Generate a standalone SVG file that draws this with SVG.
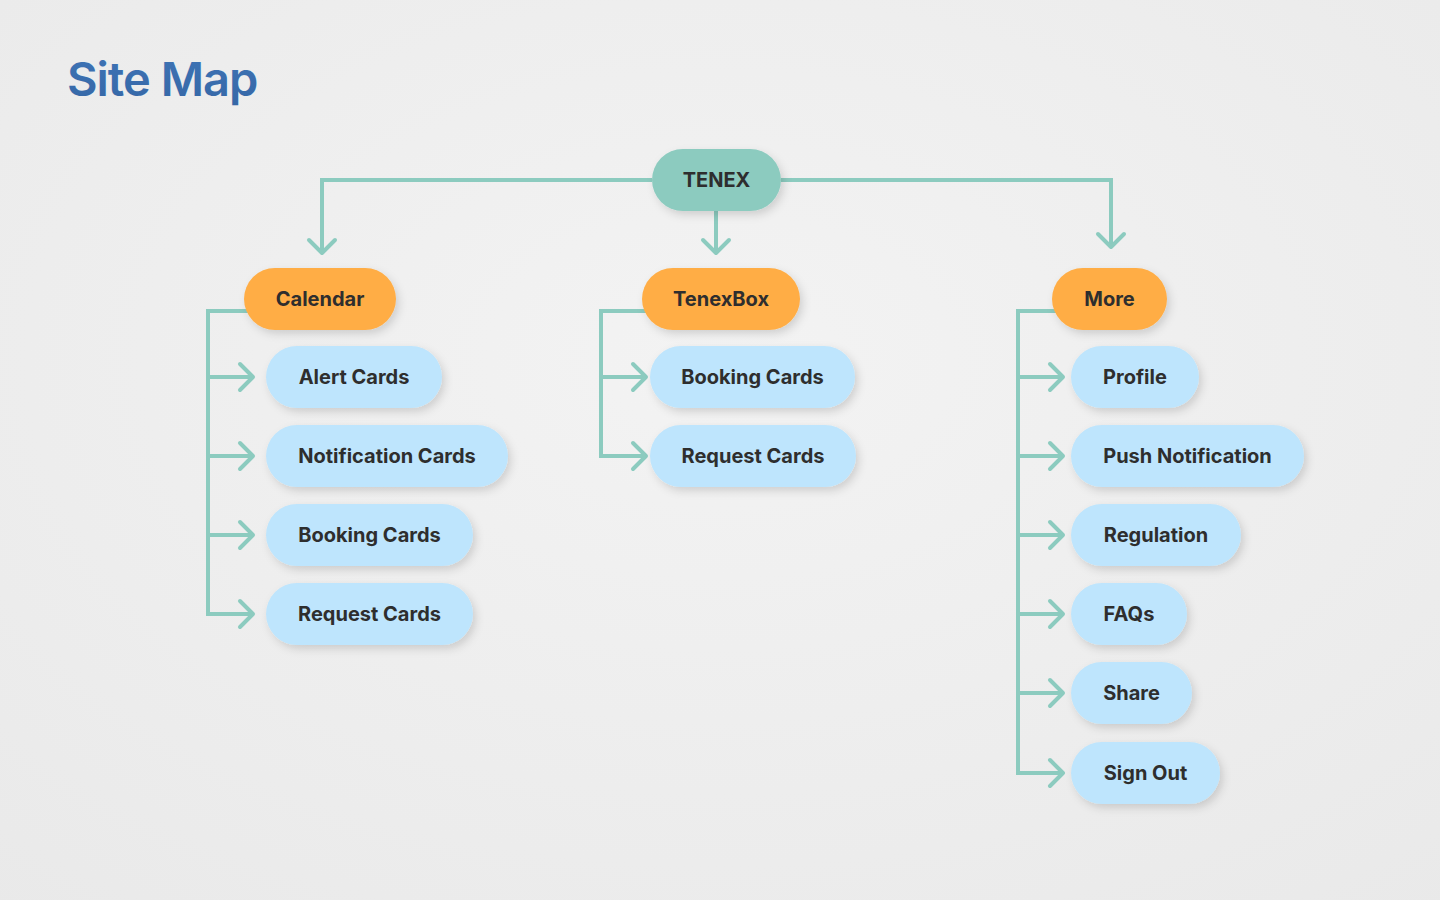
<svg xmlns="http://www.w3.org/2000/svg" width="1440" height="900" viewBox="0 0 1440 900">
<defs>
<radialGradient id="bg" cx="0.5" cy="0.4" r="0.8">
<stop offset="0" stop-color="#f3f3f3"/>
<stop offset="1" stop-color="#e9e9e9"/>
</radialGradient>
<linearGradient id="title" x1="0" y1="0" x2="0" y2="1">
<stop offset="0" stop-color="#3f74b6"/>
<stop offset="1" stop-color="#3567a6"/>
</linearGradient>
<filter id="sh" x="-20%" y="-30%" width="150%" height="180%">
<feDropShadow dx="3" dy="4" stdDeviation="4" flood-color="#000" flood-opacity="0.14"/>
</filter>
<marker id="chev" viewBox="-18 -18 36 36" markerWidth="36" markerHeight="36" refX="0" refY="0" orient="auto" markerUnits="userSpaceOnUse">
<path d="M-13,-13 L0,0 L-13,13" fill="none" stroke="#8ccbbf" stroke-width="4" stroke-linecap="round" stroke-linejoin="round"/>
</marker>
</defs>
<style>
.ln{fill:none;stroke:#8ccbbf;stroke-width:4;stroke-linejoin:miter}
.ar{fill:none;stroke:#8ccbbf;stroke-width:4;marker-end:url(#chev)}
.root{fill:#8ccbbf}
.sec{fill:#ffad45}
.leaf{fill:#bee5fd}
.t{font-family:Inter,"Liberation Sans",sans-serif;font-weight:700;font-size:20px;fill:#2e2e2e;text-anchor:middle;dominant-baseline:central}
</style>
<rect width="1440" height="900" fill="url(#bg)"/>
<text x="67" y="96" font-family="Inter,'Liberation Sans',sans-serif" font-weight="600" font-size="47" fill="url(#title)" letter-spacing="-1">Site Map</text>

<g id="connectors">
<path class="ar" d="M652,180 H322 V253"/>
<path class="ar" d="M716,211 V253"/>
<path class="ar" d="M781,180 H1111 V247"/>
<path class="ln" d="M250,311 H208 V616"/>
<path class="ar" d="M208,377 H253"/>
<path class="ar" d="M208,456 H253"/>
<path class="ar" d="M208,535 H253"/>
<path class="ar" d="M206,614 H253"/>
<path class="ln" d="M648,311 H601 V458"/>
<path class="ar" d="M601,377 H646"/>
<path class="ar" d="M599,456 H646"/>
<path class="ln" d="M1058,311 H1018 V775"/>
<path class="ar" d="M1018,377 H1063"/>
<path class="ar" d="M1018,456 H1063"/>
<path class="ar" d="M1018,535 H1063"/>
<path class="ar" d="M1018,614 H1063"/>
<path class="ar" d="M1018,693 H1063"/>
<path class="ar" d="M1016,773 H1063"/>
</g>

<g id="n-tenex"><rect class="root" x="652" y="149" width="129" height="62" rx="31" filter="url(#sh)"/><text class="t" x="716.5" y="180">TENEX</text></g>

<g id="n-calendar"><rect class="sec" x="244" y="268" width="152" height="62" rx="31" filter="url(#sh)"/><text class="t" x="320" y="299">Calendar</text></g>
<g id="n-tenexbox"><rect class="sec" x="642" y="268" width="158" height="62" rx="31" filter="url(#sh)"/><text class="t" x="721" y="299">TenexBox</text></g>
<g id="n-more"><rect class="sec" x="1052" y="268" width="115" height="62" rx="31" filter="url(#sh)"/><text class="t" x="1109.5" y="299">More</text></g>

<g id="n-cal-alert"><rect class="leaf" x="266" y="346" width="176" height="62" rx="31" filter="url(#sh)"/><text class="t" x="354" y="377">Alert Cards</text></g>
<g id="n-cal-notif"><rect class="leaf" x="266" y="425" width="242" height="62" rx="31" filter="url(#sh)"/><text class="t" x="387" y="456">Notification Cards</text></g>
<g id="n-cal-booking"><rect class="leaf" x="266" y="504" width="207" height="62" rx="31" filter="url(#sh)"/><text class="t" x="369.5" y="535">Booking Cards</text></g>
<g id="n-cal-request"><rect class="leaf" x="266" y="583" width="207" height="62" rx="31" filter="url(#sh)"/><text class="t" x="369.5" y="614">Request Cards</text></g>

<g id="n-box-booking"><rect class="leaf" x="650" y="346" width="205" height="62" rx="31" filter="url(#sh)"/><text class="t" x="752.5" y="377">Booking Cards</text></g>
<g id="n-box-request"><rect class="leaf" x="650" y="425" width="206" height="62" rx="31" filter="url(#sh)"/><text class="t" x="753" y="456">Request Cards</text></g>

<g id="n-profile"><rect class="leaf" x="1071" y="346" width="128" height="62" rx="31" filter="url(#sh)"/><text class="t" x="1135" y="377">Profile</text></g>
<g id="n-push"><rect class="leaf" x="1071" y="425" width="233" height="62" rx="31" filter="url(#sh)"/><text class="t" x="1187.5" y="456">Push Notification</text></g>
<g id="n-regulation"><rect class="leaf" x="1071" y="504" width="170" height="62" rx="31" filter="url(#sh)"/><text class="t" x="1156" y="535">Regulation</text></g>
<g id="n-faqs"><rect class="leaf" x="1071" y="583" width="116" height="62" rx="31" filter="url(#sh)"/><text class="t" x="1129" y="614">FAQs</text></g>
<g id="n-share"><rect class="leaf" x="1071" y="662" width="121" height="62" rx="31" filter="url(#sh)"/><text class="t" x="1131.5" y="693">Share</text></g>
<g id="n-signout"><rect class="leaf" x="1071" y="742" width="149" height="62" rx="31" filter="url(#sh)"/><text class="t" x="1145.5" y="773">Sign Out</text></g>
</svg>
